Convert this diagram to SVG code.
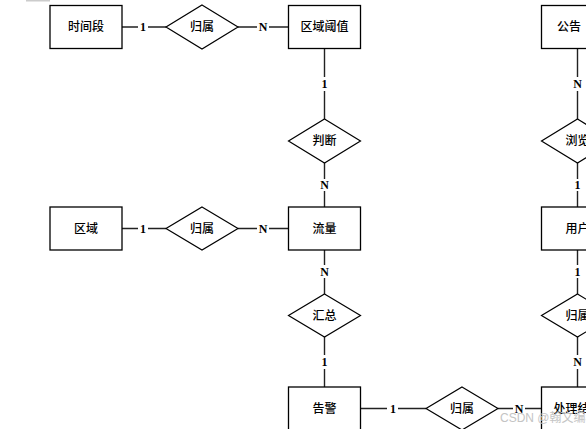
<svg xmlns="http://www.w3.org/2000/svg" width="586" height="429" viewBox="0 0 586 429">
<style>
.box{fill:#fff;stroke:#000;stroke-width:1.3}
.dia{fill:#fff;stroke:#000;stroke-width:1.2}
.ln{stroke:#222;stroke-width:1.4;fill:none}
.t{font-family:"Liberation Serif","Noto Sans CJK SC",serif;font-size:12px;font-weight:500;text-anchor:middle;dominant-baseline:central;fill:#000}
.c{font-family:"Liberation Serif",serif;font-size:12px;font-weight:bold;text-anchor:middle;dominant-baseline:central;fill:#000}
.wm{font-family:"Liberation Sans","Noto Sans CJK SC",sans-serif;font-size:12px;fill:#c4c4c4}
</style>
<rect width="586" height="429" fill="#fff"/>
<rect x="26" y="0" width="24" height="1.5" fill="#ccc"/>
<g id="connectors">
<path class="ln" d="M122 27H138M148 27H166M238 27H257M269 27H288"/>
<path class="ln" d="M122 228.5H138M148 228.5H166M238 228.5H257M269 228.5H288"/>
<path class="ln" d="M361 408.5H387M398 408.5H426M498 408.5H513M525 408.5H541"/>
<path class="ln" d="M324.5 49V77M324.5 91V119M324.5 163V179M324.5 191V207M324.5 250V265M324.5 278V294M324.5 337V355M324.5 369V387"/>
<path class="ln" d="M577.5 49V77M577.5 91V119M577.5 163V179M577.5 191V207M577.5 250V265M577.5 278V294M577.5 337V355M577.5 369V387"/>
<text class="c" x="143" y="27">1</text>
<text class="c" x="263" y="27">N</text>
<text class="c" x="143" y="228.5">1</text>
<text class="c" x="263" y="228.5">N</text>
<text class="c" x="393" y="408.5">1</text>
<text class="c" x="519" y="408.5">N</text>
<text class="c" x="324.5" y="84">1</text>
<text class="c" x="324.5" y="185">N</text>
<text class="c" x="324.5" y="271.5">N</text>
<text class="c" x="324.5" y="362">1</text>
<text class="c" x="577.5" y="84">N</text>
<text class="c" x="577.5" y="185">1</text>
<text class="c" x="577.5" y="271.5">1</text>
<text class="c" x="577.5" y="362">N</text>
</g>
<g id="shiduan"><rect class="box" x="50" y="5.5" width="72" height="43"/><text class="t" x="86" y="27">时间段</text></g>
<g id="guishu1"><polygon class="dia" points="202,5 238,27 202,49 166,27"/><text class="t" x="202" y="27">归属</text></g>
<g id="quyuyuzhi"><rect class="box" x="288.5" y="5.5" width="72" height="43"/><text class="t" x="324.5" y="27">区域阈值</text></g>
<g id="panduan"><polygon class="dia" points="324.5,119 360.5,141 324.5,163 288.5,141"/><text class="t" x="324.5" y="141">判断</text></g>
<g id="quyu"><rect class="box" x="50" y="207" width="72" height="43"/><text class="t" x="86" y="228.5">区域</text></g>
<g id="guishu2"><polygon class="dia" points="202,207 238,228.5 202,250 166,228.5"/><text class="t" x="202" y="228.5">归属</text></g>
<g id="liuliang"><rect class="box" x="288.5" y="207" width="72" height="43"/><text class="t" x="324.5" y="228.5">流量</text></g>
<g id="huizong"><polygon class="dia" points="324.5,294 360.5,315.5 324.5,337 288.5,315.5"/><text class="t" x="324.5" y="315.5">汇总</text></g>
<g id="gaojing"><rect class="box" x="288.5" y="387" width="72" height="43"/><text class="t" x="324.5" y="408.5">告警</text></g>
<g id="guishu3"><polygon class="dia" points="462,387 498,408.5 462,430 426,408.5"/><text class="t" x="462" y="408.5">归属</text></g>
<g id="gonggao"><rect class="box" x="541.5" y="5.5" width="72" height="43"/><text class="t" x="557" y="27" style="text-anchor:start">公告</text></g>
<g id="liulan"><polygon class="dia" points="577.5,119 613.5,141 577.5,163 541.5,141"/><text class="t" x="577.5" y="141">浏览</text></g>
<g id="yonghu"><rect class="box" x="541.5" y="207" width="72" height="43"/><text class="t" x="577.5" y="228.5">用户</text></g>
<g id="guishu4"><polygon class="dia" points="577.5,294 613.5,315.5 577.5,337 541.5,315.5"/><text class="t" x="577.5" y="315.5">归属</text></g>
<g id="chulijieguo"><rect class="box" x="541.5" y="387" width="72" height="43"/><text class="t" x="577.5" y="408.5">处理结果</text></g>
<text class="wm" x="500" y="422">CSDN @翰文编程</text>
</svg>
